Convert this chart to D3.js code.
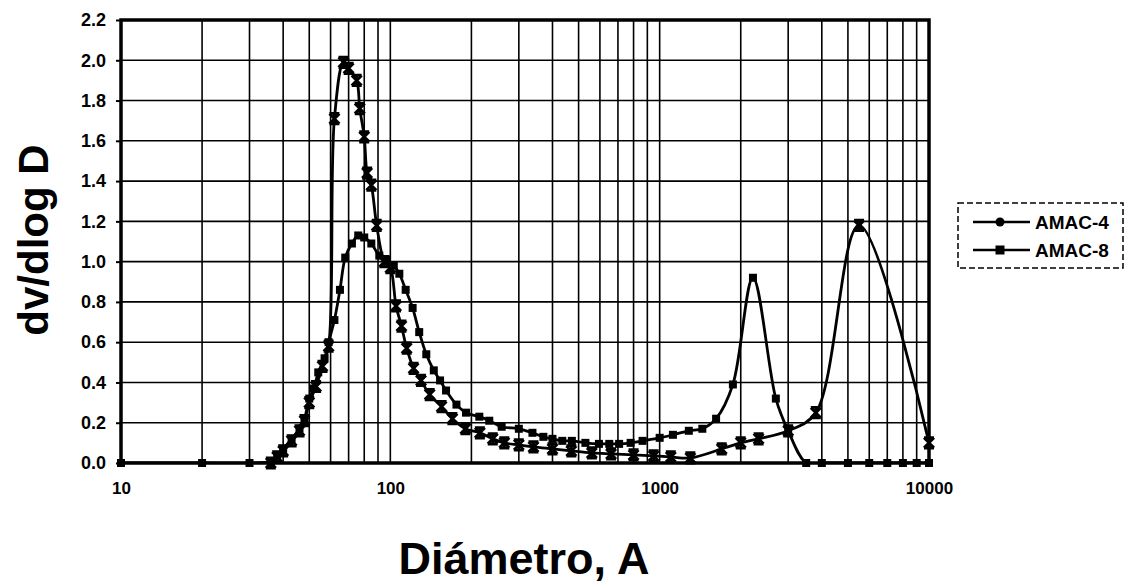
<!DOCTYPE html>
<html>
<head>
<meta charset="utf-8">
<script src="https://cdn.jsdelivr.net/npm/d3@7"></script>
<style>
  html, body { margin: 0; padding: 0; background: #fff; }
  svg { display: block; }
  text { font-family: "Liberation Sans", Arial, Helvetica, sans-serif; fill: #000; }
</style>
</head>
<body>
<svg id="chart" width="1129" height="584"></svg>
<script>
// Pore size distribution, dv/dlog D against diameter (Å)
const seriesNames = ["AMAC-4", "AMAC-8"];

// AMAC-4: diameters and dv/dlog D
const diamA4 = [36, 38, 40, 43, 46, 48, 50, 53, 56, 59, 62, 67, 70, 75, 77, 80, 82, 85, 89, 95,
  100, 105, 110, 115, 122, 130, 140, 155, 170, 190, 215, 240, 265, 300, 340, 400, 470, 560,
  660, 800, 950, 1100, 1300, 1700, 2000, 2330, 3000, 3800, 5500, 10000];
const valA4 = [0.00, 0.03, 0.06, 0.11, 0.16, 0.21, 0.30, 0.38, 0.48, 0.58, 1.71, 1.99, 1.96, 1.90, 1.76, 1.62, 1.44, 1.38, 1.18, 1.00,
  0.97, 0.78, 0.68, 0.57, 0.47, 0.41, 0.34, 0.28, 0.22, 0.17, 0.15, 0.12, 0.10, 0.09, 0.08, 0.07, 0.06, 0.05,
  0.045, 0.04, 0.035, 0.03, 0.025, 0.07, 0.10, 0.12, 0.16, 0.25, 1.18, 0.10];

// AMAC-8: diameters and dv/dlog D
const diamA8 = [10, 20, 30, 36, 38, 40, 43, 46, 48, 50, 52, 54, 57, 59, 62, 65, 68, 72, 76, 80,
  85, 91, 97, 103, 108, 114, 121, 128, 136, 145, 153, 161, 176, 191, 214, 233, 259, 300, 337,
  370, 400, 435, 472, 530, 595, 650, 707, 780, 864, 1000, 1120, 1283, 1440, 1620, 1870, 2220,
  2700, 3000, 3500, 4000, 5000, 6000, 7000, 8000, 9000, 10000];
const valA8 = [0.00, 0.00, 0.00, 0.01, 0.04, 0.07, 0.12, 0.17, 0.22, 0.32, 0.37, 0.45, 0.52, 0.60, 0.71, 0.86, 1.02, 1.09, 1.13, 1.12,
  1.09, 1.03, 1.01, 0.98, 0.94, 0.86, 0.77, 0.65, 0.54, 0.46, 0.41, 0.36, 0.29, 0.25, 0.23, 0.21, 0.18, 0.17, 0.15,
  0.13, 0.12, 0.11, 0.11, 0.10, 0.095, 0.095, 0.095, 0.10, 0.11, 0.125, 0.14, 0.16, 0.17, 0.22, 0.39, 0.92,
  0.32, 0.16, 0.00, 0.00, 0.00, 0.00, 0.00, 0.00, 0.00, 0.00];

// Axis ticks
const yTicks = [0, 0.2, 0.4, 0.6, 0.8, 1.0, 1.2, 1.4, 1.6, 1.8, 2.0, 2.2];
const xDecades = [10, 100, 1000, 10000];
const xMinorSteps = [1, 2, 3, 4, 5, 6, 7, 8, 9];

const svg = d3.select("#chart");
const plot = { left: 121, right: 929, top: 20, bottom: 463 };

const x = d3.scaleLog().domain([10, 10000]).range([plot.left, plot.right]);
const y = d3.scaleLinear().domain([0, 2.2]).range([plot.bottom, plot.top]);

// grid
const gridX = [];
xDecades.slice(0, -1).forEach(dec => xMinorSteps.forEach(k => gridX.push(dec * k)));
gridX.push(10000);

const grid = svg.append("g").attr("stroke", "#000").attr("stroke-width", 1.6);
grid.selectAll("line.v").data(gridX).join("line")
  .attr("class", "v")
  .attr("x1", d => x(d)).attr("x2", d => x(d))
  .attr("y1", plot.top).attr("y2", plot.bottom);
grid.selectAll("line.h").data(yTicks).join("line")
  .attr("class", "h")
  .attr("x1", plot.left).attr("x2", plot.right)
  .attr("y1", d => y(d)).attr("y2", d => y(d));

// y axis
const yAxis = svg.append("g")
  .attr("transform", `translate(${plot.left},0)`)
  .call(d3.axisLeft(y).tickValues(yTicks).tickFormat(d3.format(".1f")).tickSize(5).tickPadding(10));
yAxis.select(".domain").remove();
yAxis.selectAll("line").attr("stroke", "#000").attr("stroke-width", 2);
yAxis.selectAll("text")
  .style("font-size", "18px").style("font-weight", "bold")
  .attr("font-family", null);

// x axis labels
const xAxis = svg.append("g")
  .attr("transform", `translate(0,${plot.bottom})`)
  .call(d3.axisBottom(x).tickValues(xDecades).tickFormat(d3.format("d")).tickSize(0).tickPadding(19));
xAxis.select(".domain").remove();
xAxis.selectAll("text")
  .style("font-size", "17px").style("font-weight", "bold")
  .attr("font-family", null);

// plot frame
svg.append("rect")
  .attr("x", plot.left).attr("y", plot.top)
  .attr("width", plot.right - plot.left).attr("height", plot.bottom - plot.top)
  .attr("fill", "none").attr("stroke", "#000").attr("stroke-width", 3.5);

// clip for curves
svg.append("clipPath").attr("id", "plotClip")
  .append("rect")
  .attr("x", plot.left).attr("y", plot.top - 10)
  .attr("width", plot.right - plot.left).attr("height", plot.bottom - plot.top + 10);

const line = d3.line()
  .x(d => x(d[0]))
  .y(d => y(d[1]))
  .curve(d3.curveCatmullRom.alpha(0.5));

const dataA4 = diamA4.map((d, i) => [d, valA4[i]]);
const dataA8 = diamA8.map((d, i) => [d, valA8[i]]);

const curves = svg.append("g").attr("clip-path", "url(#plotClip)");
[dataA8, dataA4].forEach(data => {
  curves.append("path")
    .datum(data)
    .attr("d", line)
    .attr("fill", "none")
    .attr("stroke", "#000")
    .attr("stroke-width", 2.8)
    .attr("stroke-linejoin", "round");
});

// star-type marker (x with caps)
const starPath = "M-5,-5L5,5M5,-5L-5,5M-5,-5.2L5,-5.2M-5,5.2L5,5.2M0,-5L0,5";

const marks = svg.append("g");
marks.selectAll("rect.m8").data(dataA8).join("rect")
  .attr("class", "m8")
  .attr("x", d => x(d[0]) - 4).attr("y", d => y(d[1]) - 4)
  .attr("width", 8).attr("height", 8)
  .attr("fill", "#000");
marks.selectAll("path.m4").data(dataA4).join("path")
  .attr("class", "m4")
  .attr("transform", d => `translate(${x(d[0])},${y(d[1])})`)
  .attr("d", starPath)
  .attr("fill", "none").attr("stroke", "#000").attr("stroke-width", 2.8);

// axis titles
svg.append("text")
  .attr("transform", "translate(48,240) rotate(-90)")
  .attr("text-anchor", "middle")
  .style("font-size", "42px").style("font-weight", "bold")
  .text("dv/dlog D");

svg.append("text")
  .attr("x", 524).attr("y", 574)
  .attr("text-anchor", "middle")
  .style("font-size", "45px").style("font-weight", "bold")
  .text("Diámetro, A");

// legend
const legend = svg.append("g").attr("transform", "translate(958,203)");
legend.append("rect")
  .attr("x", 0).attr("y", 0).attr("width", 165).attr("height", 65)
  .attr("fill", "#fff").attr("stroke", "#000").attr("stroke-width", 1.5)
  .attr("stroke-dasharray", "6,3");
const entries = legend.selectAll("g.entry").data(seriesNames).join("g")
  .attr("class", "entry")
  .attr("transform", (d, i) => `translate(0,${19 + i * 28})`);
entries.append("line")
  .attr("x1", 15).attr("x2", 72).attr("y1", 0).attr("y2", 0)
  .attr("stroke", "#000").attr("stroke-width", 2.5);
entries.each(function (d, i) {
  const g = d3.select(this);
  if (i === 0) {
    g.append("circle").attr("cx", 42).attr("cy", 0).attr("r", 4.5).attr("fill", "#000");
  } else {
    g.append("rect").attr("x", 37.5).attr("y", -4.5).attr("width", 9).attr("height", 9).attr("fill", "#000");
  }
});
entries.append("text")
  .attr("x", 77).attr("y", 7)
  .style("font-size", "19px").style("font-weight", "bold")
  .text(d => d);
</script>
</body>
</html>
